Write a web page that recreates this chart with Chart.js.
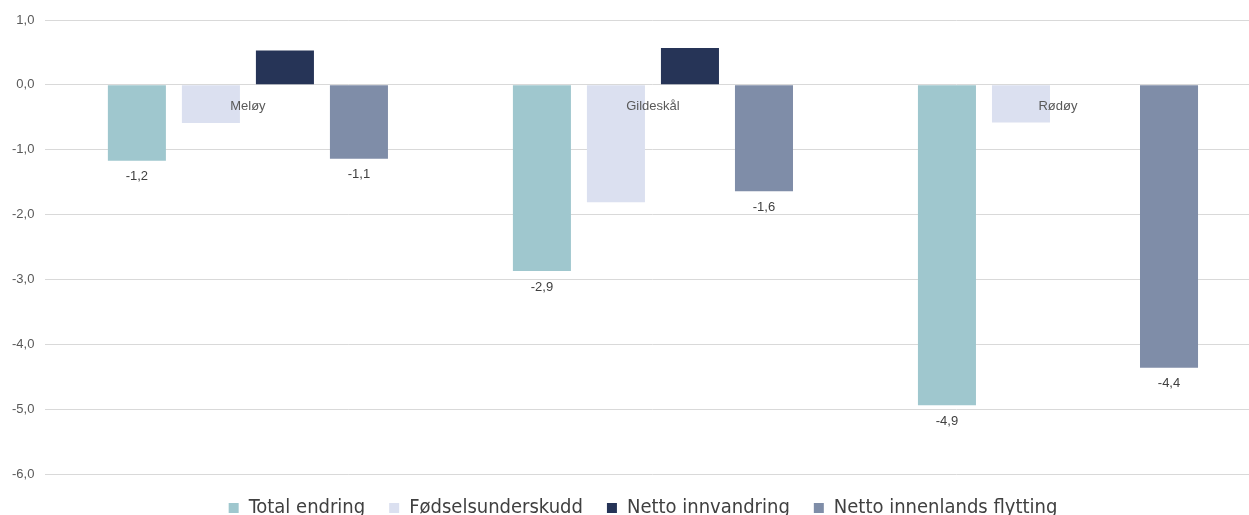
<!DOCTYPE html>
<html>
<head>
<meta charset="utf-8">
<script src="https://cdn.jsdelivr.net/npm/chart.js@4/dist/chart.umd.min.js"></script>
<style>
  html, body { margin: 0; padding: 0; background: #fff; overflow: hidden; }
  #wrap { width: 1285px; height: 528px; position: relative; }
</style>
</head>
<body>
<div id="wrap"><canvas id="myChart"></canvas></div>
<script>
const categories = ['Meløy', 'Gildeskål', 'Rødøy'];
const seriesNames = ['Total endring', 'Fødselsunderskudd', 'Netto innvandring', 'Netto innenlands flytting'];
const totalEndring = [-1.17, -2.87, -4.94];
const fodselsunderskudd = [-0.59, -1.81, -0.58];
const nettoInnvandring = [0.53, 0.57, 0];
const nettoInnenlands = [-1.14, -1.64, -4.36];
const yTicks = [1, 0, -1, -2, -3, -4, -5, -6];

const barColors = ['#9fc7ce', '#dbe0f0', '#263457', '#7f8da8'];
const labelledSeries = [0, 3]; // only these series show value labels

function fmt(v) {
    return v.toFixed(1).replace('.', ',');
}

// value labels under the bar ends
const valueLabels = {
    id: 'valueLabels',
    afterDatasetsDraw(chart) {
        const ctx = chart.ctx;
        ctx.save();
        ctx.font = '13px "Liberation Sans", Arial, sans-serif';
        ctx.fillStyle = '#404040';
        ctx.textAlign = 'center';
        ctx.textBaseline = 'middle';
        for (const i of labelledSeries) {
            const meta = chart.getDatasetMeta(i);
            const values = chart.data.datasets[i].data;
            meta.data.forEach(function(bar, j) {
                const v = values[j];
                ctx.fillText(fmt(v), bar.x, bar.y + (v < 0 ? 16 : -16));
            });
        }
        ctx.restore();
    }
};

const myChart = new Chart('myChart', {
    type: 'bar',
    data: {
        labels: categories,
        datasets: [
            { label: seriesNames[0], data: totalEndring, backgroundColor: barColors[0] },
            { label: seriesNames[1], data: fodselsunderskudd, backgroundColor: barColors[1] },
            { label: seriesNames[2], data: nettoInnvandring, backgroundColor: barColors[2] },
            { label: seriesNames[3], data: nettoInnenlands, backgroundColor: barColors[3] }
        ]
    },
    options: {
        responsive: true,
        maintainAspectRatio: false,
        animation: false,
        datasets: {
            bar: { categoryPercentage: 0.731, barPercentage: 0.784 }
        },
        layout: { padding: { top: 20, left: 1, right: 0, bottom: 0 } },
        scales: {
            x: {
                position: { y: 0 },
                grid: { display: false },
                border: { display: false },
                ticks: {
                    z: 1, // category names sit on top of the bars
                    color: '#595959',
                    padding: 6,
                    font: { size: 13, family: '"Liberation Sans", Arial, sans-serif' }
                }
            },
            y: {
                min: -6,
                max: 1,
                afterBuildTicks(axis) {
                    axis.ticks = yTicks.map(v => ({ value: v }));
                },
                grid: { color: '#d9d9d9', drawTicks: false },
                border: { display: false },
                ticks: {
                    color: '#595959',
                    padding: 11,
                    font: { size: 13, family: '"Liberation Sans", Arial, sans-serif' },
                    callback: v => fmt(v)
                }
            },
            // empty right axis, only keeps the plot area off the right edge
            y2: {
                position: 'right',
                grid: { display: false },
                border: { display: false },
                ticks: { display: false },
                afterFit(scale) {
                    scale.width = 24.5;
                }
            }
        },
        plugins: {
            legend: {
                position: 'bottom',
                labels: {
                    boxWidth: 10,
                    boxHeight: 10,
                    padding: 24,
                    color: '#404040',
                    font: { size: 20, family: '"Liberation Sans Narrow", "DejaVu Sans Condensed", sans-serif' }
                }
            },
            tooltip: { enabled: false }
        }
    },
    plugins: [valueLabels]
});
</script>
</body>
</html>
